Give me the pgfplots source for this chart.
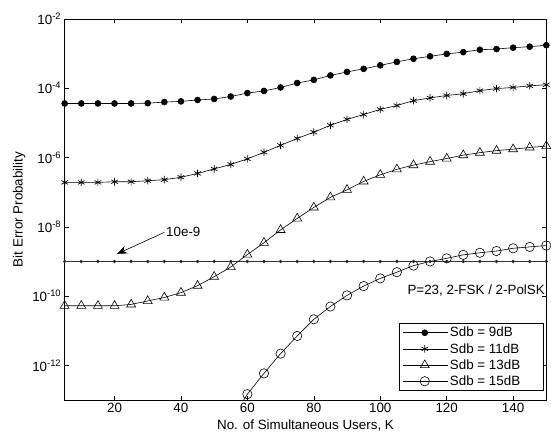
\documentclass[border=0pt]{standalone}
\usepackage{fontspec}
\setmainfont{Liberation Sans}
\usepackage{pgfplots}
\pgfplotsset{compat=1.18}
\usetikzlibrary{arrows.meta}

\newcommand{\lblfont}{\fontsize{13.5}{16}\selectfont}

\begin{document}
\begin{tikzpicture}
\begin{axis}[
  scale only axis, width=484bp, height=383bp,
  ymode=log,
  xmin=5, xmax=150, ymin=1e-13, ymax=1e-2,
  xtick={20,40,...,140},
  ytick={1e-12,1e-10,1e-8,1e-6,1e-4,1e-2},
  yticklabels={10\textsuperscript{-12},10\textsuperscript{-10},10\textsuperscript{-8},10\textsuperscript{-6},10\textsuperscript{-4},10\textsuperscript{-2}},
  /pgf/number format/assume math mode=true,
  minor tick num=0, yminorticks=false,
  tick align=inside, major tick length=4bp,
  axis line style={black, line width=0.8bp},
  every tick/.style={black, line width=0.6bp},
  tick label style={font=\lblfont},
  label style={font=\lblfont},
  xlabel={No. of Simultaneous Users, K},
  ylabel={Bit Error Probability},
  legend style={at={(0.994,0.0235)}, anchor=south east, draw=black, line width=0.6bp,
    fill=white, font=\lblfont, row sep=1bp, inner xsep=3bp},
  legend cell align=left,
  legend image code/.code={\draw[mark repeat=2,mark phase=2,#1] plot coordinates {(0bp,0bp) (22bp,0bp) (45bp,0bp)};},
]
% 9 dB
\addplot[black, line width=0.6bp, mark=*, mark size=3bp, mark options={fill=black}] coordinates {
(5,3.63e-5)(10,3.63e-5)(15,3.63e-5)(20,3.63e-5)(25,3.63e-5)(30,3.7e-5)(35,3.98e-5)(40,4.17e-5)
(45,4.57e-5)(50,4.90e-5)(55,5.75e-5)(60,7.24e-5)(65,8.32e-5)(70,1.05e-4)(75,1.41e-4)(80,1.74e-4)
(85,2.34e-4)(90,2.95e-4)(95,3.63e-4)(100,4.57e-4)(105,5.75e-4)(110,7.08e-4)(115,8.32e-4)(120,9.77e-4)
(125,1.10e-3)(130,1.29e-3)(135,1.35e-3)(140,1.48e-3)(145,1.58e-3)(150,1.74e-3)};
\addlegendentry{Sdb = 9dB\hspace*{18bp}}
% 11 dB
\addplot[black, line width=0.6bp, mark=asterisk, mark size=3.8bp, mark options={line width=0.7bp}] coordinates {
(5,1.91e-7)(10,1.91e-7)(15,1.91e-7)(20,2.0e-7)(25,2.0e-7)(30,2.14e-7)(35,2.29e-7)(40,2.69e-7)
(45,3.47e-7)(50,4.68e-7)(55,6.31e-7)(60,9.12e-7)(65,1.41e-6)(70,2.24e-6)(75,3.55e-6)(80,5.37e-6)
(85,8.51e-6)(90,1.26e-5)(95,1.74e-5)(100,2.45e-5)(105,3.16e-5)(110,4.37e-5)(115,5.25e-5)(120,6.17e-5)
(125,6.92e-5)(130,8.51e-5)(135,9.77e-5)(140,1.05e-4)(145,1.17e-4)(150,1.26e-4)};
\addlegendentry{Sdb = 11dB\hspace*{18bp}}
% 13 dB
\addplot[black, line width=0.6bp, mark=triangle, mark size=5.2bp, mark options={fill=white, line width=0.6bp}] coordinates {
(5,5.25e-11)(10,5.25e-11)(15,5.25e-11)(20,5.25e-11)(25,5.75e-11)(30,7.24e-11)(35,9.12e-11)(40,1.26e-10)
(45,2.0e-10)(50,3.63e-10)(55,6.92e-10)(60,1.58e-9)(65,3.47e-9)(70,8.13e-9)(75,1.74e-8)(80,3.63e-8)
(85,7.08e-8)(90,1.17e-7)(95,2.04e-7)(100,3.16e-7)(105,4.57e-7)(110,6.03e-7)(115,7.59e-7)(120,9.33e-7)
(125,1.17e-6)(130,1.38e-6)(135,1.58e-6)(140,1.74e-6)(145,1.95e-6)(150,2.14e-6)};
\addlegendentry{Sdb = 13dB\hspace*{18bp}}
% 15 dB
\addplot[black, line width=0.6bp, mark=o, mark size=4.7bp, mark options={fill=white, line width=0.6bp}] coordinates {
(55,2.5e-14)(60,1.48e-13)(65,5.89e-13)(70,2.19e-12)(75,7.08e-12)(80,2.14e-11)(85,5.01e-11)(90,1.05e-10)
(95,1.95e-10)(100,3.24e-10)(105,4.90e-10)(110,7.59e-10)(115,1.0e-9)(120,1.23e-9)(125,1.55e-9)
(130,1.78e-9)(135,2.0e-9)(140,2.40e-9)(145,2.63e-9)(150,2.88e-9)};
\addlegendentry{Sdb = 15dB\hspace*{18bp}}
% 1e-9 reference line
\addplot[black!80, line width=0.8bp, mark=*, mark size=1.3bp, mark options={fill=black}, forget plot] coordinates {
(5,1e-9)(10,1e-9)(15,1e-9)(20,1e-9)(25,1e-9)(30,1e-9)(35,1e-9)(40,1e-9)(45,1e-9)(50,1e-9)
(55,1e-9)(60,1e-9)(65,1e-9)(70,1e-9)(75,1e-9)(80,1e-9)(85,1e-9)(90,1e-9)(95,1e-9)(100,1e-9)
(105,1e-9)(110,1e-9)(115,1e-9)(120,1e-9)(125,1e-9)(130,1e-9)(135,1e-9)(140,1e-9)(145,1e-9)(150,1e-9)};
\draw[black, line width=0.6bp, -{Stealth[length=10bp,width=8bp]}] (axis cs:35,6.9e-9) -- (axis cs:20.8,1.66e-9);
\node[anchor=west, inner sep=0pt, font=\lblfont] at (axis cs:35.5,7.2e-9) {10e-9};
\node[anchor=east, inner sep=0pt, font=\lblfont] at (axis cs:149.6,1.43e-10) {P=23, 2-FSK / 2-PolSK};
\end{axis}
\path ([shift={(-65bp,-44bp)}]current axis.south west) rectangle ([shift={(2bp,19bp)}]current axis.north east);
\end{tikzpicture}
\end{document}
